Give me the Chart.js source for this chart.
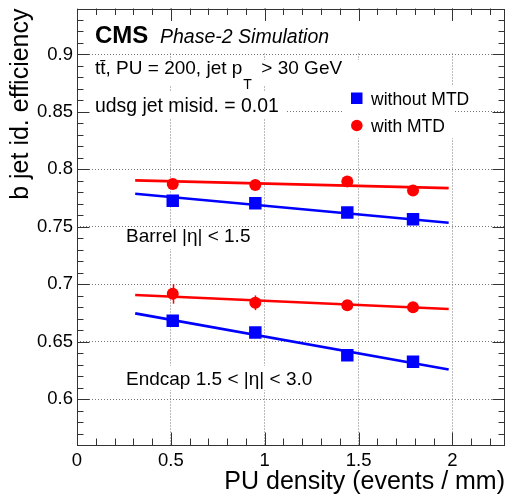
<!DOCTYPE html>
<html><head><meta charset="utf-8">
<script src="https://cdn.jsdelivr.net/npm/chart.js@4/dist/chart.umd.min.js"></script>
<style>html,body{margin:0;padding:0;background:#fff;overflow:hidden}</style>
</head><body>
<canvas id="c" width="508" height="497"></canvas>
<script>
// ---- data ----
const puDensity = [0.51, 0.95, 1.44, 1.79];
const barrelWithoutMTD = [0.7726, 0.7705, 0.7624, 0.7566];
const barrelWithMTD    = [0.7872, 0.7863, 0.7895, 0.7815];
const endcapWithoutMTD = [0.6681, 0.6580, 0.6381, 0.6325];
const endcapWithMTD    = [0.6916, 0.6838, 0.6816, 0.6800];
const endcapWithMTDErr = [0.0086, 0.0064, 0.002, 0.002];
const fitRange = [0.31, 1.98];
const barrelWithoutFit = [0.7787, 0.7535];
const barrelWithFit    = [0.7904, 0.7836];
const endcapWithoutFit = [0.6746, 0.6257];
const endcapWithFit    = [0.6906, 0.6784];
const xTicks = [0, 0.5, 1, 1.5, 2];
const xTickLabels = ['0', '0.5', '1', '1.5', '2'];
const yTicks = [0.6, 0.65, 0.7, 0.75, 0.8, 0.85, 0.9];
const yTickLabels = ['0.6', '0.65', '0.7', '0.75', '0.8', '0.85', '0.9'];
const legendLabels = ['without MTD', 'with MTD'];
const xTitle = 'PU density (events / mm)';
const yTitle = 'b jet id. efficiency';

const FONT = "'Liberation Sans', Arial, Helvetica, sans-serif";
const BLUE = '#0000ff', RED = '#ff0000';

function pts(xs, ys) { return xs.map((x, i) => ({x: x, y: ys[i]})); }

const markerSet = (label, ys, color, style, r) => ({
  label, data: pts(puDensity, ys), showLine: false,
  pointStyle: style, pointRadius: r, pointHoverRadius: r,
  backgroundColor: color, borderColor: color, borderWidth: 0
});
const fitSet = (ys, color) => ({
  label: 'fit', data: pts(fitRange, ys), showLine: true,
  pointRadius: 0, borderColor: color, borderWidth: 2.6, backgroundColor: color
});

// white boxes that hide the grid behind the text blocks (layout only)
const textBoxes = [
  [77, 9, 428, 43],
  [77, 60, 288, 25],
  [77, 92, 210, 26],
  [342, 85, 113, 53],
  [120, 227, 130, 22],
  [120, 366, 195, 24]
];

const PLOT_LEFT = 77;
function noPad(s) { s.paddingTop = 0; s.paddingBottom = 0; s.paddingLeft = 0; s.paddingRight = 0; }

const decor = {
  id: 'decor',
  beforeDatasetsDraw(chart) {
    const {ctx, scales: {x, y}} = chart;
    ctx.save();
    ctx.fillStyle = '#fff';
    textBoxes.forEach(b => ctx.fillRect(b[0], b[1], b[2], b[3]));
    ctx.fillStyle = '#000';
    ctx.textBaseline = 'alphabetic';
    ctx.textAlign = 'left';
    ctx.font = 'bold 24px ' + FONT;
    ctx.fillText('CMS', 95, 43);
    ctx.font = 'italic 19.5px ' + FONT;
    ctx.fillText('Phase-2 Simulation', 160, 43);
    ctx.font = '19px ' + FONT;
    const s1 = 'tt\u0304, PU = 200, jet p';
    ctx.fillText(s1, 95, 74);
    const w = ctx.measureText(s1).width;
    ctx.font = '14px ' + FONT;
    ctx.fillText('T', 95 + w + 1, 89);
    ctx.font = '19px ' + FONT;
    ctx.fillText('> 30 GeV', 95 + w + 19, 74);
    ctx.font = '19.4px ' + FONT;
    ctx.fillText('udsg jet misid. = 0.01', 95, 112);
    ctx.font = '19px ' + FONT;
    ctx.fillText('Barrel |\u03b7| < 1.5', 126, 242);
    ctx.fillText('Endcap 1.5 < |\u03b7| < 3.0', 126, 385);
    // legend
    ctx.font = '17.5px ' + FONT;
    ctx.fillStyle = BLUE;
    ctx.fillRect(351, 92.5, 11.5, 11.5);
    ctx.fillStyle = RED;
    ctx.beginPath(); ctx.arc(356.8, 125.5, 5.8, 0, Math.PI * 2); ctx.fill();
    ctx.fillStyle = '#000';
    ctx.fillText(legendLabels[0], 371, 105);
    ctx.fillText(legendLabels[1], 371, 132);
    // error bars
    ctx.strokeStyle = RED; ctx.lineWidth = 1.5;
    puDensity.forEach((xv, i) => {
      const px = Math.round(x.getPixelForValue(xv)) + 0.5;
      ctx.beginPath();
      ctx.moveTo(px, y.getPixelForValue(endcapWithMTD[i] + endcapWithMTDErr[i]));
      ctx.lineTo(px, y.getPixelForValue(endcapWithMTD[i] - endcapWithMTDErr[i]));
      ctx.stroke();
    });
    ctx.restore();
  },
  afterDraw(chart) {
    const {ctx, chartArea: a, scales: {x, y}} = chart;
    ctx.save();
    ctx.strokeStyle = '#333';
    ctx.lineWidth = 1;
    ctx.strokeRect(Math.round(a.left) + 0.5, Math.round(a.top) + 0.5,
                   Math.round(a.right - a.left) - 1, Math.round(a.bottom - a.top) - 1);
    ctx.beginPath();
    for (let k = 57; k < 94; k++) {
      const py = Math.round(y.getPixelForValue(k / 100)) + 0.5;
      const len = (k % 5 === 0) ? 12.5 : 6.5;
      ctx.moveTo(a.left, py); ctx.lineTo(a.left + len, py);
      ctx.moveTo(a.right, py); ctx.lineTo(a.right - len, py);
    }
    for (let k = 1; k <= 22; k++) {
      const px = Math.round(x.getPixelForValue(k / 10)) + 0.5;
      const len = (k % 5 === 0) ? 12.5 : 6.5;
      ctx.moveTo(px, a.bottom); ctx.lineTo(px, a.bottom - len);
      ctx.moveTo(px, a.top); ctx.lineTo(px, a.top + len);
    }
    ctx.stroke();
    ctx.restore();
  }
};

new Chart(document.getElementById('c'), {
  type: 'scatter',
  data: {
    datasets: [
      markerSet(legendLabels[0] + ' barrel', barrelWithoutMTD, BLUE, 'rect', 8.8),
      markerSet(legendLabels[1] + ' barrel', barrelWithMTD, RED, 'circle', 6),
      markerSet(legendLabels[0] + ' endcap', endcapWithoutMTD, BLUE, 'rect', 8.8),
      markerSet(legendLabels[1] + ' endcap', endcapWithMTD, RED, 'circle', 6),
      fitSet(barrelWithoutFit, BLUE),
      fitSet(barrelWithFit, RED),
      fitSet(endcapWithoutFit, BLUE),
      fitSet(endcapWithFit, RED)
    ]
  },
  options: {
    responsive: false,
    animation: false,
    devicePixelRatio: 1,
    layout: {autoPadding: false, padding: {left: 0, right: 3, top: 8.5, bottom: 0}},
    plugins: {legend: {display: false}, tooltip: {enabled: false}},
    scales: {
      x: {
        type: 'linear', min: 0, max: 2.28,
        afterFit: s => { s.height = 52; noPad(s); },
        afterBuildTicks: s => { s.ticks = xTicks.map(v => ({value: v})); },
        ticks: {
          autoSkip: false, maxRotation: 0, padding: 5, color: '#000',
          font: {family: FONT, size: 18.5},
          callback: v => xTickLabels[xTicks.indexOf(v)]
        },
        grid: {color: '#777', lineWidth: 1, drawTicks: false},
        border: {display: false, dash: [1, 2]},
        title: {display: true, text: xTitle, align: 'end', color: '#000',
                font: {family: FONT, size: 25, lineHeight: 1.2}, padding: {top: 0, bottom: 0}}
      },
      y: {
        type: 'linear', min: 0.56, max: 0.94,
        afterFit: s => { s.width = PLOT_LEFT; noPad(s); },
        afterBuildTicks: s => { s.ticks = yTicks.map(v => ({value: v})); },
        ticks: {
          autoSkip: false, padding: 4, color: '#000',
          font: {family: FONT, size: 18.5},
          callback: v => yTickLabels[yTicks.indexOf(v)]
        },
        grid: {color: '#777', lineWidth: 1, drawTicks: false},
        border: {display: false, dash: [1, 2]},
        title: {display: true, text: yTitle, align: 'end', color: '#000',
                font: {family: FONT, size: 25, lineHeight: 1.2}, padding: {top: 6, bottom: 0}}
      }
    }
  },
  plugins: [decor]
});
</script>
</body></html>
